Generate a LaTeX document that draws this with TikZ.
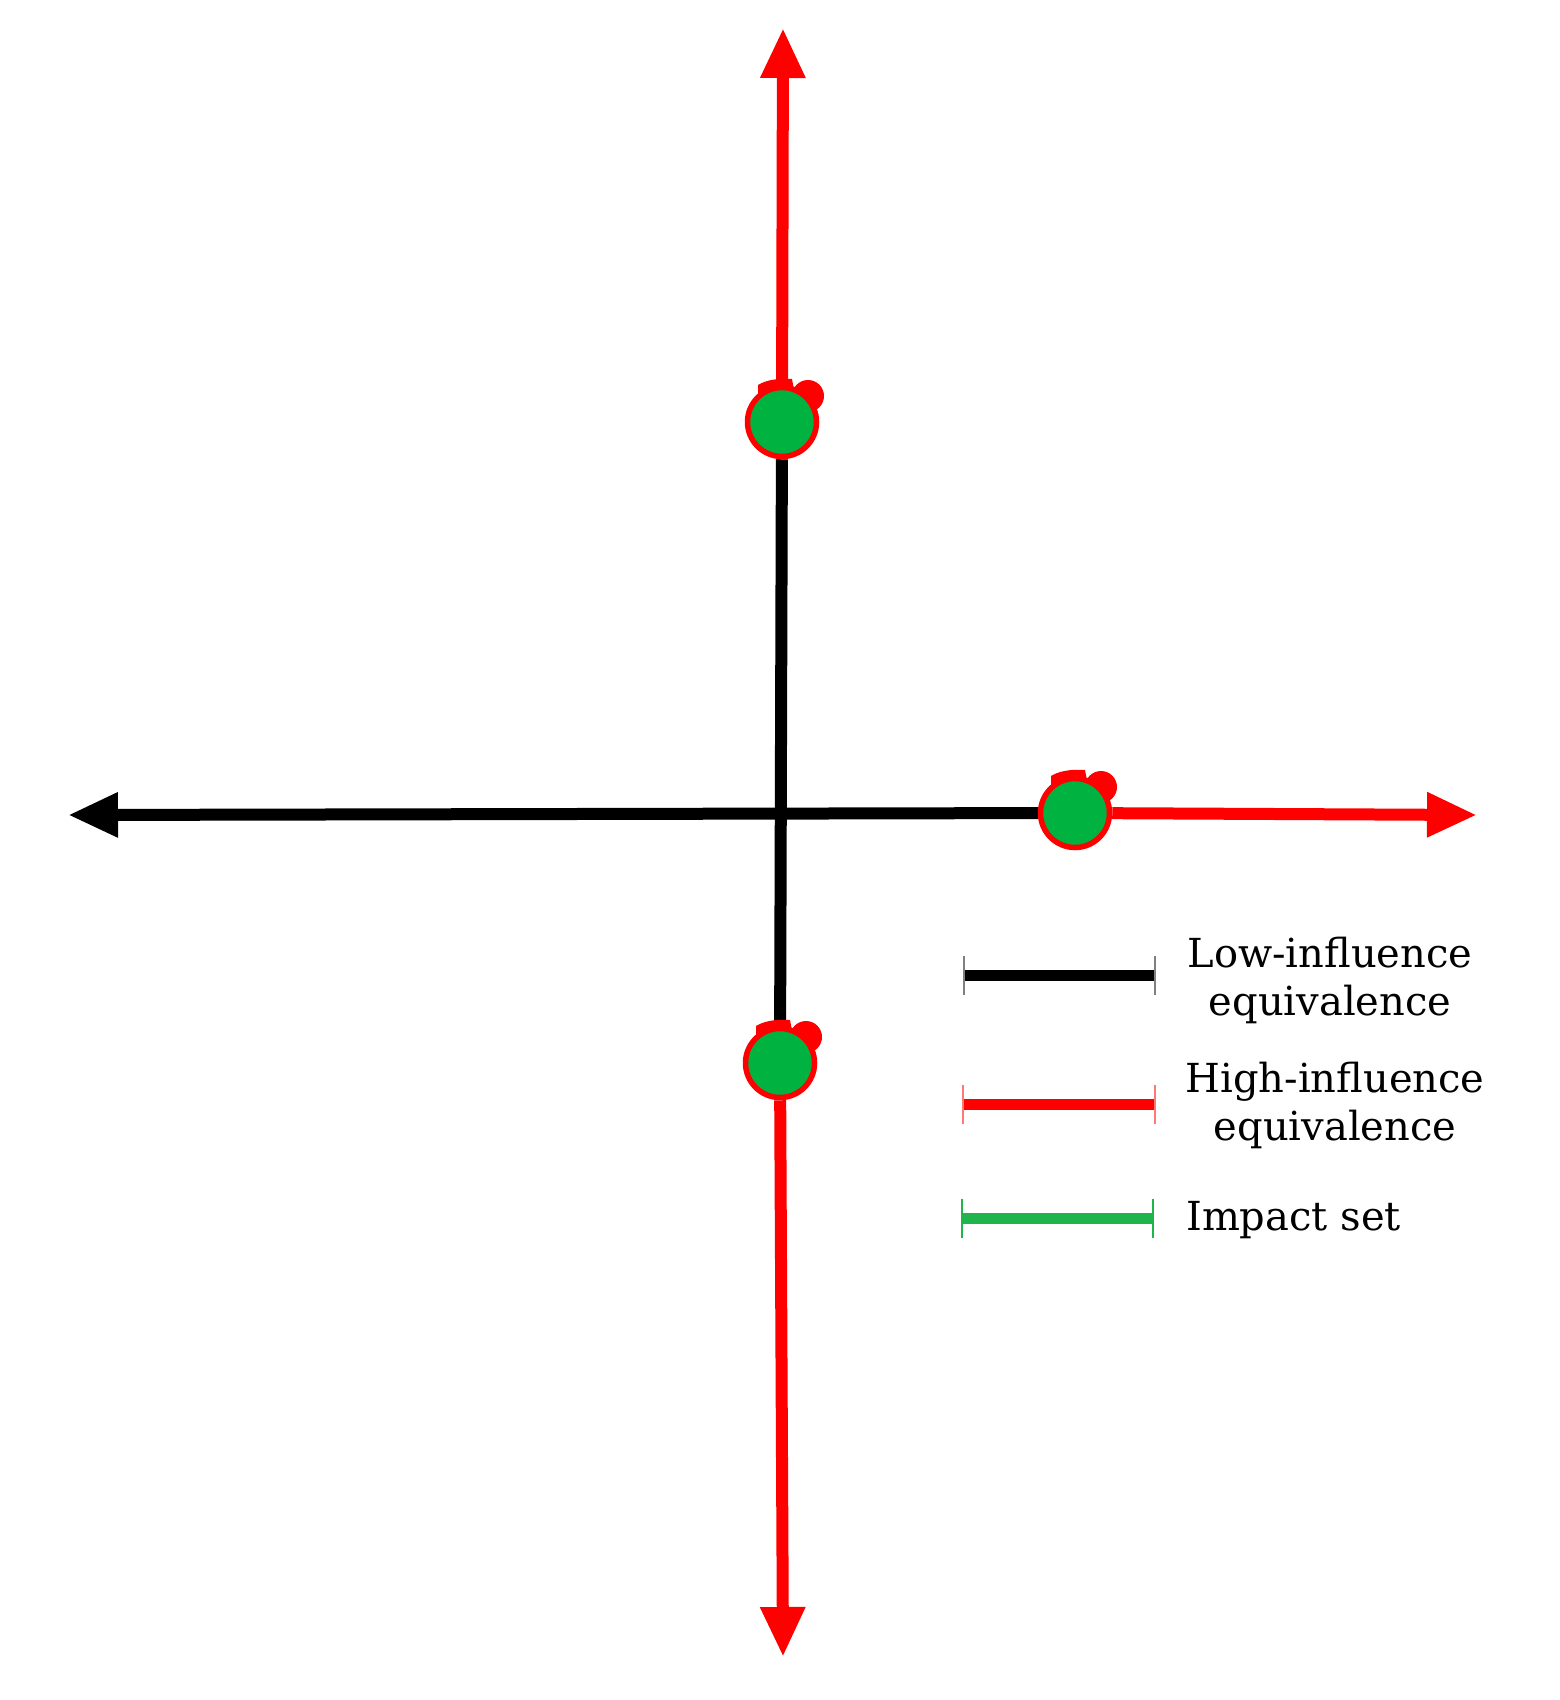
\documentclass[tikz,border=0pt]{standalone}
\usepackage{fontspec}
\setmainfont{DejaVu Serif}
\usetikzlibrary{arrows.meta,calc,backgrounds}
\definecolor{dotgreen}{RGB}{0,178,64}
\definecolor{leggreen}{RGB}{32,180,76}
\definecolor{tickred}{RGB}{255,120,120}
\begin{document}
\begin{tikzpicture}[x=1pt,y=-1pt,
  axisred/.style={draw=red,line width=12pt},
  axisblack/.style={draw=black,line width=12pt},
  tipend/.style={-{Triangle[length=50pt,width=42pt]}},
  dotnode/.style={circle,draw=red,fill=dotgreen,line width=5.5pt,minimum size=69pt,inner sep=0pt},
  legline/.style={line width=11pt},
  legtick/.style={line width=1.2pt},
  legtext/.style={font=\fontsize{40}{48}\selectfont,align=center,inner sep=0pt}]
\useasboundingbox (0,0) rectangle (1560,1700);
\coordinate (ttip) at (783,28);
\coordinate (btip) at (783,1657);
\coordinate (ltip) at (68,815);
\coordinate (rtip) at (1477,815);
\coordinate (ct) at (782,422);
\coordinate (cr) at (1075,813);
\coordinate (cb) at (780,1063);
\foreach \c in {ct,cr,cb}{
  \fill[red] ($(\c)+(26,-26)$) circle[radius=16];
  \fill[red] ($(\c)+(-24,-22)$) -- ($(\c)+(-24,-37)$) .. controls ($(\c)+(-16,-42)$) and ($(\c)+(-4,-44)$) .. ($(\c)+(10,-43)$) -- ($(\c)+(14,-22)$) -- cycle;
}
\node[dotnode] (dt) at (ct) {};
\node[dotnode] (dr) at (cr) {};
\node[dotnode] (db) at (cb) {};
\begin{pgfonlayer}{background}
  \draw[axisblack] (dt) -- (db);
  \draw[axisblack,tipend] (dr) -- (ltip);
  \draw[axisred,tipend] (dt) -- (ttip);
  \draw[axisred,tipend] (db) -- (btip);
  \draw[axisred,tipend] (dr) -- (rtip);
\end{pgfonlayer}
% legend
\coordinate (la1) at (964,975);
\coordinate (la2) at (1155,975);
\coordinate (lb1) at (963,1104);
\coordinate (lb2) at (1155,1104);
\coordinate (lc1) at (962,1218);
\coordinate (lc2) at (1153,1218);
\draw[legline,black] (la1) -- (la2);
\draw[legline,red] (lb1) -- (lb2);
\draw[legline,leggreen] (lc1) -- (lc2);
\foreach \p/\col in {la1/gray,la2/gray,lb1/tickred,lb2/tickred,lc1/leggreen,lc2/leggreen}{
  \draw[legtick,\col] ($(\p)+(0,-19.5)$) -- ($(\p)+(0,19.5)$);
}
\node[legtext,anchor=base] (t1) at (1330,1015) {Low-influence\\equivalence};
\node[legtext,anchor=base] (t2) at (1335,1140) {High-influence\\equivalence};
\node[legtext,anchor=base west] (t3) at (1186,1230) {Impact set};
\end{tikzpicture}
\end{document}
